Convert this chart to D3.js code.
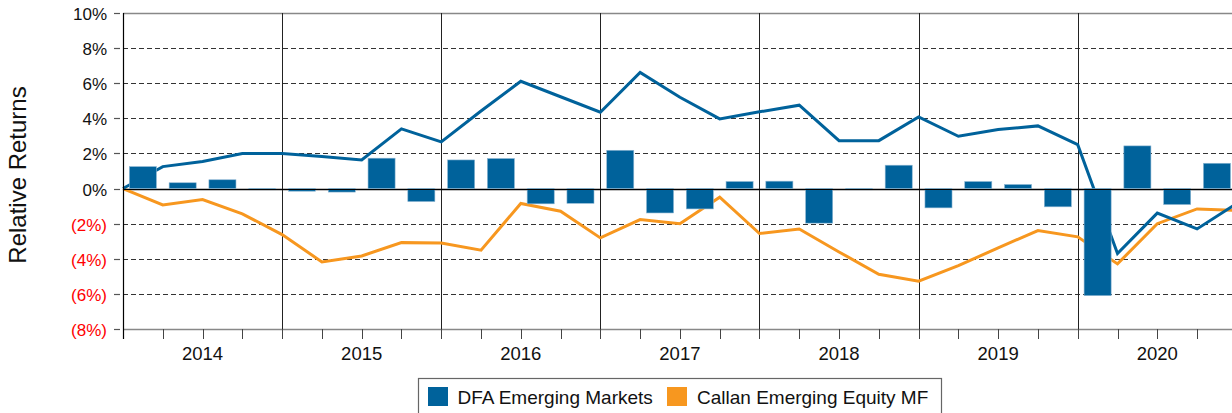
<!DOCTYPE html>
<html>
<head>
<meta charset="utf-8">
<script src="https://cdn.jsdelivr.net/npm/d3@7"></script>
<style>
  html, body { margin: 0; padding: 0; background: #fff; }
  svg { display: block; font-family: "Liberation Sans", Arial, sans-serif; }
</style>
</head>
<body>
<svg id="chart" width="1232" height="413"></svg>
<script>
// Calendar years on the axis
const years = [2014, 2015, 2016, 2017, 2018, 2019, 2020];

// Quarter keys, e.g. "2014 Q1"
const quarters = years.flatMap(y => [1, 2, 3, 4].map(q => `${y} Q${q}`));

// Quarterly relative return of DFA Emerging Markets (%), bars
const dfaQuarterly = [
  1.25, 0.33, 0.50, -0.05,
  -0.15, -0.20, 1.73, -0.74,
  1.63, 1.71, -0.87, -0.84,
  2.18, -1.39, -1.16, 0.40,
  0.42, -1.97, -0.03, 1.33,
  -1.10, 0.40, 0.23, -1.04,
  -6.10, 2.43, -0.91, 1.44
];

// Cumulative relative return, one point per quarter end (first point = start)
const dfaCumulative = [
  0, 1.25, 1.54, 1.99, 2.00,
  1.82, 1.63, 3.40, 2.66,
  4.42, 6.11, 5.23, 4.35,
  6.61, 5.20, 3.97, 4.37,
  4.75, 2.73, 2.73, 4.08,
  2.98, 3.36, 3.57, 2.50,
  -3.70, -1.40, -2.30, -0.85
];

const callanCumulative = [
  0, -0.93, -0.63, -1.44, -2.62,
  -4.18, -3.84, -3.08, -3.10,
  -3.51, -0.85, -1.29, -2.81,
  -1.77, -2.00, -0.49, -2.56,
  -2.30, -3.61, -4.88, -5.28,
  -4.39, -3.38, -2.39, -2.75,
  -4.29, -2.00, -1.16, -1.25
];

// Y axis ticks (%)
const yTicks = [10, 8, 6, 4, 2, 0, -2, -4, -6, -8];

const seriesNames = ["DFA Emerging Markets", "Callan Emerging Equity MF"];
const colors = { dfa: "#00629b", callan: "#f7971f" };

const svg = d3.select("#chart");

const plotLeft = 123, plotTop = 13, plotBottom = 329;
const step = 39.78;
const plotRight = plotLeft + quarters.length * step;

const y = d3.scaleLinear().domain([-8, 10]).range([plotBottom, plotTop]);
const xPt = d3.scaleLinear().domain([0, quarters.length]).range([plotLeft, plotRight]);
const xBand = d3.scaleBand().domain(quarters).range([plotLeft, plotRight])
  .paddingInner(0.32).paddingOuter(0.16);
const xYear = d3.scaleBand().domain(years).range([plotLeft, plotRight]);

// Horizontal grid
const grid = svg.append("g");
yTicks.forEach(t => {
  const yy = Math.round(y(t)) + 0.5;
  let stroke = "#333", dash = "5,3", w = 1;
  if (t === 0) { stroke = "#000"; dash = null; w = 1.5; }
  if (t === 10 || t === -8) { stroke = "#888"; dash = null; w = 1.5; }
  grid.append("line")
    .attr("x1", plotLeft).attr("x2", 1232)
    .attr("y1", yy).attr("y2", yy)
    .attr("stroke", stroke).attr("stroke-width", w)
    .attr("stroke-dasharray", dash);
  // small tick left of the axis
  grid.append("line")
    .attr("x1", 114).attr("x2", 120)
    .attr("y1", yy).attr("y2", yy)
    .attr("stroke", "#555").attr("stroke-width", 1.2);
});

// Year separators
years.forEach((yr, i) => {
  const xx = Math.round(xYear(yr)) + 0.5;
  svg.append("line")
    .attr("x1", xx).attr("x2", xx)
    .attr("y1", plotTop).attr("y2", plotBottom)
    .attr("stroke", i === 0 ? "#000" : "#222").attr("stroke-width", 1);
});

// Bottom quarter ticks
d3.range(quarters.length + 1).forEach(i => {
  const xx = Math.round(xPt(i)) + 0.5;
  svg.append("line")
    .attr("x1", xx).attr("x2", xx)
    .attr("y1", plotBottom).attr("y2", plotBottom + 10)
    .attr("stroke", "#444").attr("stroke-width", 1);
});

// Y tick labels
svg.append("g").selectAll("text").data(yTicks).join("text")
  .attr("x", 107).attr("y", d => y(d) + 7)
  .attr("text-anchor", "end")
  .attr("font-size", 17)
  .attr("fill", d => d < 0 ? "#ff0000" : "#111")
  .text(d => d < 0 ? `(${-d}%)` : `${d}%`);

// Year labels
svg.append("g").selectAll("text").data(years).join("text")
  .attr("x", d => xYear(d) + xYear.bandwidth() / 2)
  .attr("y", 360)
  .attr("text-anchor", "middle")
  .attr("font-size", 18.5)
  .attr("fill", "#111")
  .text(d => d);

// Y axis title
svg.append("text")
  .attr("transform", "translate(26,175) rotate(-90)")
  .attr("text-anchor", "middle")
  .attr("font-size", 24)
  .attr("fill", "#111")
  .text("Relative Returns");

// Cumulative lines
const line = d3.line().x((d, i) => xPt(i)).y(d => y(d));
svg.append("path").datum(callanCumulative)
  .attr("d", line).attr("fill", "none")
  .attr("stroke", colors.callan).attr("stroke-width", 3)
  .attr("stroke-linejoin", "miter");
svg.append("path").datum(dfaCumulative)
  .attr("d", line).attr("fill", "none")
  .attr("stroke", colors.dfa).attr("stroke-width", 3)
  .attr("stroke-linejoin", "miter");

// Quarterly bars
svg.append("g").selectAll("rect").data(dfaQuarterly).join("rect")
  .attr("x", (d, i) => xBand(quarters[i]))
  .attr("width", xBand.bandwidth())
  .attr("y", d => y(Math.max(0, d)))
  .attr("height", d => Math.max(1.2, Math.abs(y(d) - y(0))))
  .attr("fill", colors.dfa)
  .attr("stroke", "#8cb6d3").attr("stroke-width", 0.6);

// Zero line over the bars' base
svg.append("line")
  .attr("x1", plotLeft).attr("x2", 1232)
  .attr("y1", Math.round(y(0)) + 0.5).attr("y2", Math.round(y(0)) + 0.5)
  .attr("stroke", "#000").attr("stroke-width", 1.2);

// Left axis line
svg.append("line")
  .attr("x1", plotLeft + 0.5).attr("x2", plotLeft + 0.5)
  .attr("y1", plotTop).attr("y2", plotBottom + 10)
  .attr("stroke", "#000").attr("stroke-width", 1.2);

// Legend
const lg = svg.append("g");
lg.append("rect")
  .attr("x", 418.5).attr("y", 378.5).attr("width", 523).attr("height", 50)
  .attr("fill", "#fff").attr("stroke", "#666").attr("stroke-width", 1.2);
const items = [
  { name: seriesNames[0], color: colors.dfa, sx: 428, tx: 457.5 },
  { name: seriesNames[1], color: colors.callan, sx: 667, tx: 697 }
];
items.forEach(it => {
  lg.append("rect").attr("x", it.sx).attr("y", 387).attr("width", 20).attr("height", 19)
    .attr("fill", it.color);
  lg.append("text").attr("x", it.tx).attr("y", 404)
    .attr("font-size", 19).attr("fill", "#111").text(it.name);
});
</script>
</body>
</html>
